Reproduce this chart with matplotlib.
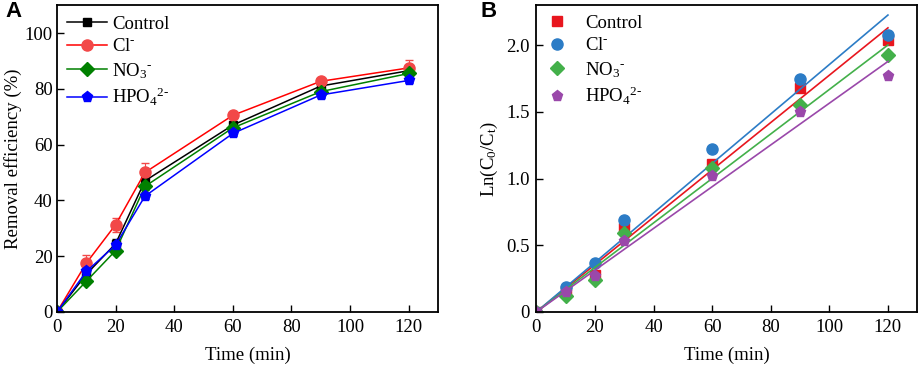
import numpy as np
import matplotlib
matplotlib.use("Agg")
import matplotlib.pyplot as plt
from matplotlib.lines import Line2D

plt.rcParams["font.family"] = ["Liberation Serif", "DejaVu Serif"]
plt.rcParams["mathtext.fontset"] = "custom"
plt.rcParams["mathtext.rm"] = "Liberation Serif"
plt.rcParams["mathtext.default"] = "regular"

time = [0, 10, 20, 30, 60, 90, 120]
labels = ["Control", "Cl$^{\\text{-}}$", "NO$_3$$^{\\text{-}}$", "HPO$_4$$^{\\text{2-}}$"]

# panel A: removal efficiency (%)
eff_control = [0, 13.5, 24.5, 47.0, 67.0, 81.0, 86.5]
eff_cl = [0, 17.5, 31.3, 50.0, 70.5, 82.7, 87.5]
eff_no3 = [0, 11.0, 22.0, 45.0, 66.0, 79.0, 85.5]
eff_hpo4 = [0, 14.5, 24.0, 41.5, 64.0, 77.8, 83.0]
err_control = [0, 1.2, 1.5, 1.5, 1.2, 1.0, 1.5]
err_cl = [0, 3.0, 2.5, 3.3, 1.0, 1.0, 3.0]
err_no3 = [0, 1.0, 1.0, 1.2, 1.0, 1.0, 1.2]
err_hpo4 = [0, 1.0, 1.0, 1.0, 1.0, 1.0, 1.0]

# panel B: ln(C0/Ct) and fitted rate constants
ln_control = [0, 0.16, 0.28, 0.63, 1.11, 1.68, 2.04]
ln_cl = [0, 0.19, 0.37, 0.69, 1.22, 1.75, 2.08]
ln_no3 = [0, 0.12, 0.24, 0.59, 1.08, 1.55, 1.93]
ln_hpo4 = [0, 0.15, 0.27, 0.53, 1.02, 1.50, 1.77]
k_fit = [0.01775, 0.01855, 0.01668, 0.01565]


def style_axis(ax):
    ax.tick_params(direction="in", length=5, width=1, labelsize=13.5,
                   top=False, right=False, pad=5)
    for s in ax.spines.values():
        s.set_linewidth(1.3)
    ax.set_xlim(0, 130)
    ax.set_xticks(range(0, 121, 20))
    ax.set_xlabel("Time (min)", fontsize=13.5, labelpad=8)


fig = plt.figure(figsize=(9.2, 3.7), dpi=100)
axA = fig.add_axes([0.062, 0.157, 0.414, 0.829])
axB = fig.add_axes([0.583, 0.157, 0.414, 0.829])

# panel A
a_colors = ["black", "red", "green", "blue"]
a_mfc = ["black", "#F24848", "green", "blue"]
a_markers = ["s", "o", "D", "p"]
a_ms = [6, 8, 7, 8]
a_data = [eff_control, eff_cl, eff_no3, eff_hpo4]
a_err = [err_control, err_cl, err_no3, err_hpo4]
handles = []
for y, e, c, mfc, m, ms, lab in zip(a_data, a_err, a_colors, a_mfc, a_markers, a_ms, labels):
    axA.errorbar(time, y, yerr=e, color=c, ecolor=mfc, elinewidth=0.8, capsize=3,
                 marker=m, ms=ms, mfc=mfc, mec=mfc, lw=1.1)
    handles.append(Line2D([], [], color=c, marker=m, ms=ms, mfc=mfc, mec=mfc,
                          lw=1.1, label=lab))
style_axis(axA)
axA.tick_params(axis="y", pad=3)
axA.set_ylim(0, 110)
axA.set_yticks(range(0, 101, 20))
axA.set_ylabel("Removal efficiency (%)", fontsize=13.5, labelpad=2)
axA.legend(handles=handles, loc="upper left", frameon=False, fontsize=13.5,
           handlelength=2.1, handletextpad=0.3, labelspacing=0.3,
           borderaxespad=0.15)
fig.text(0.006, 0.955, "A", fontsize=16, fontweight="bold", family="Liberation Sans")

# panel B
b_colors = ["#E8161E", "#2C7CC6", "#43B04A", "#9A48AA"]
b_markers = ["s", "o", "D", "p"]
b_ms = [7, 8, 7, 8]
b_data = [ln_control, ln_cl, ln_no3, ln_hpo4]
t_fit = np.array([0, 120])
for y, k, c, m, ms, lab in zip(b_data, k_fit, b_colors, b_markers, b_ms, labels):
    axB.plot(t_fit, k * t_fit, color=c, lw=1.2)
    axB.plot(time, y, ls="none", marker=m, ms=ms, color=c, label=lab)
style_axis(axB)
axB.set_ylim(0, 2.3)
axB.set_yticks([0, 0.5, 1.0, 1.5, 2.0])
axB.set_yticklabels(["0", "0.5", "1.0", "1.5", "2.0"])
axB.set_ylabel("Ln(C$_0$/C$_t$)", fontsize=13.5)
axB.legend(loc="upper left", frameon=False, fontsize=13.5, handlelength=1.2,
           handletextpad=0.9, labelspacing=0.3, borderaxespad=0.1)
fig.text(0.522, 0.955, "B", fontsize=16, fontweight="bold", family="Liberation Sans")

fig.savefig("out.png", dpi=100)
